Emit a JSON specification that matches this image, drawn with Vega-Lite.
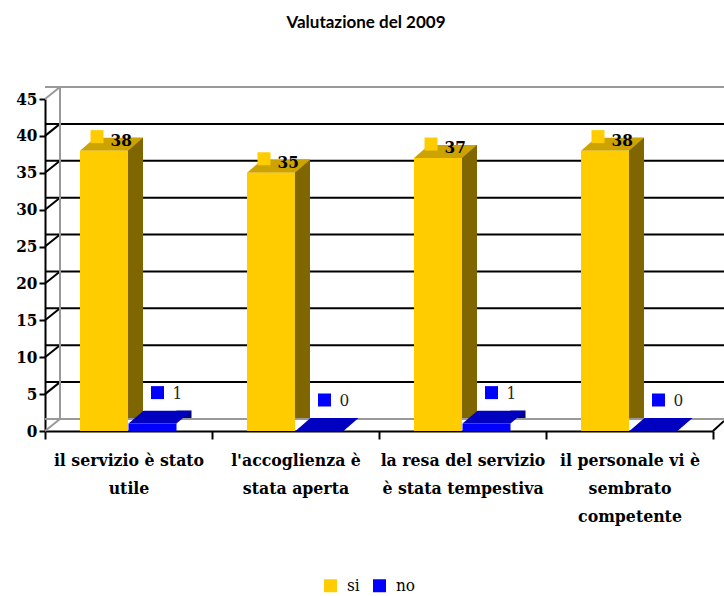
{
  "$schema": "https://vega.github.io/schema/vega-lite/v6.json",
  "width": 668,
  "height": 332,
  "autosize": {"type": "none"},
  "padding": {"left": 45, "top": 99, "right": 11, "bottom": 165},
  "background": "white",
  "title": {"text": "Valutazione del 2009", "font": "Lato", "fontSize": 17, "fontWeight": "bold", "color": "#000000", "anchor": "middle", "dx": -13, "offset": 54},
  "config": {"view": {"stroke": null}},
  "data": {"values": [
    {"cat": "il servizio è stato|utile", "series": "si", "value": 38},
    {"cat": "il servizio è stato|utile", "series": "no", "value": 1},
    {"cat": "l'accoglienza è|stata aperta", "series": "si", "value": 35},
    {"cat": "l'accoglienza è|stata aperta", "series": "no", "value": 0},
    {"cat": "la resa del servizio|è stata tempestiva", "series": "si", "value": 37},
    {"cat": "la resa del servizio|è stata tempestiva", "series": "no", "value": 1},
    {"cat": "il personale vi è|sembrato|competente", "series": "si", "value": 38},
    {"cat": "il personale vi è|sembrato|competente", "series": "no", "value": 0}
  ]},
  "encoding": {
    "y": {"field": "value", "type": "quantitative", "title": null,
      "scale": {"domain": [0, 45], "nice": false, "zero": true},
      "axis": {"values": [0, 5, 10, 15, 20, 25, 30, 35, 40, 45], "grid": false, "domainColor": "#000000", "domainWidth": 2, "tickColor": "#000000", "tickWidth": 2, "tickSize": 6, "labelFont": "DejaVu Serif Condensed", "labelFontWeight": "bold", "labelFontSize": 17, "labelColor": "#000000", "labelPadding": 2}}
  },
  "layer": [
    {
      "data": {"values": [{"value": 0}, {"value": 5}, {"value": 10}, {"value": 15}, {"value": 20}, {"value": 25}, {"value": 30}, {"value": 35}, {"value": 40}, {"value": 45}]},
      "mark": {"type": "rule", "xOffset": 15, "x2Offset": 15, "yOffset": -12, "strokeWidth": 2},
      "encoding": {
        "color": {"condition": {"test": "datum.value == 0 || datum.value == 45", "value": "#999999"}, "value": "#000000"}
      }
    },
    {
      "data": {"values": [{"value": 0}, {"value": 5}, {"value": 10}, {"value": 15}, {"value": 20}, {"value": 25}, {"value": 30}, {"value": 35}, {"value": 40}, {"value": 45}]},
      "mark": {"type": "rule", "x2Offset": 15, "y2Offset": -12, "strokeWidth": 2},
      "encoding": {
        "x": {"datum": "il servizio è stato|utile", "type": "nominal", "bandPosition": 0},
        "x2": {"datum": "il servizio è stato|utile", "bandPosition": 0},
        "y2": {"field": "value"},
        "color": {"condition": {"test": "datum.value == 0 || datum.value == 45", "value": "#999999"}, "value": "#000000"}
      }
    },
    {
      "data": {"values": [{"value": 0}]},
      "mark": {"type": "rule", "xOffset": 15, "yOffset": -12, "y2Offset": -12, "strokeWidth": 2, "color": "#999999"},
      "encoding": {
        "x": {"datum": "il servizio è stato|utile", "type": "nominal", "bandPosition": 0},
        "y": {"datum": 0}, "y2": {"datum": 45}}
    },
    {
      "data": {"values": [{"value": 0}]},
      "mark": {"type": "rule", "x2Offset": 11, "y2Offset": -10, "strokeWidth": 2, "color": "#000000"},
      "encoding": {
        "x": {"datum": "il personale vi è|sembrato|competente", "type": "nominal", "bandPosition": 1},
        "x2": {"datum": "il personale vi è|sembrato|competente", "bandPosition": 1},
        "y": {"datum": 0}, "y2": {"datum": 0}}
    },
    {
      "transform": [{"filter": "datum.series == 'si'"}],
      "mark": {"type": "bar", "width": 15, "xOffset": 7, "yOffset": -13, "color": "#806600"},
      "encoding": {
        "x": {"field": "cat", "type": "nominal", "sort": null, "title": null,
          "scale": {"domain": ["il servizio è stato|utile", "l'accoglienza è|stata aperta", "la resa del servizio|è stata tempestiva", "il personale vi è|sembrato|competente"], "paddingInner": 0, "paddingOuter": 0},
          "axis": {"bandPosition": 0.5, "labelExpr": "split(datum.label, '|')", "labelAngle": 0, "labelAlign": "center", "labelFont": "DejaVu Serif Condensed", "labelFontWeight": "bold", "labelFontSize": 17.5, "labelColor": "#000000", "labelLineHeight": 28, "labelPadding": 21, "labelLimit": 300, "tickBand": "extent", "tickSize": 8, "tickWidth": 2, "tickColor": "#000000", "domainColor": "#000000", "domainWidth": 2}}
      }
    },
    {
      "transform": [{"filter": "datum.series == 'si'"}],
      "mark": {"type": "point", "shape": "M-1,0.206L0.524,0.206L1,-0.206L-0.524,-0.206Z", "size": 3969, "filled": true, "opacity": 1, "strokeWidth": 0, "color": "#CCA300", "xOffset": -17, "yOffset": -6.5},
      "encoding": {"x": {"field": "cat", "type": "nominal", "sort": null, "title": null}}
    },
    {
      "transform": [{"filter": "datum.series == 'si'"}],
      "mark": {"type": "bar", "width": 48, "xOffset": -24.5},
      "encoding": {
        "x": {"field": "cat", "type": "nominal", "sort": null, "title": null},
        "color": {"field": "series", "type": "nominal", "scale": {"domain": ["si", "no"], "range": ["#FFCC00", "#0000FF"]},
          "legend": {"title": null, "orient": "none", "legendX": 277, "legendY": 478, "direction": "horizontal", "symbolType": "square", "symbolSize": 169, "symbolStrokeWidth": 0, "labelFont": "DejaVu Serif Condensed", "labelFontSize": 17, "labelColor": "#000000", "columnPadding": 11, "labelOffset": 8, "padding": 0}}
      }
    },
    {
      "transform": [{"filter": "datum.series == 'no'"}],
      "mark": {"type": "bar", "width": 15, "xOffset": 55.5, "yOffset": -13, "color": "#000080"},
      "encoding": {"x": {"field": "cat", "type": "nominal", "sort": null, "title": null}}
    },
    {
      "transform": [{"filter": "datum.series == 'no'"}],
      "mark": {"type": "point", "shape": "M-1,0.206L0.524,0.206L1,-0.206L-0.524,-0.206Z", "size": 3969, "filled": true, "opacity": 1, "strokeWidth": 0, "color": "#0000C0", "xOffset": 31.5, "yOffset": -6.5},
      "encoding": {"x": {"field": "cat", "type": "nominal", "sort": null, "title": null}}
    },
    {
      "transform": [{"filter": "datum.series == 'no'"}],
      "mark": {"type": "bar", "width": 48, "xOffset": 24},
      "encoding": {
        "x": {"field": "cat", "type": "nominal", "sort": null, "title": null},
        "color": {"field": "series", "type": "nominal"}
      }
    },
    {
      "transform": [{"filter": "datum.series == 'si'"}],
      "mark": {"type": "point", "shape": "square", "filled": true, "size": 169, "opacity": 1, "color": "#FFCC00", "xOffset": -31.5, "yOffset": -14},
      "encoding": {"x": {"field": "cat", "type": "nominal", "sort": null, "title": null}}
    },
    {
      "transform": [{"filter": "datum.series == 'si'"}],
      "mark": {"type": "text", "align": "left", "baseline": "middle", "font": "DejaVu Serif Condensed", "fontWeight": "bold", "fontSize": 17, "color": "#000000", "xOffset": -18, "yOffset": -10},
      "encoding": {"x": {"field": "cat", "type": "nominal", "sort": null, "title": null}, "text": {"field": "value", "type": "quantitative"}}
    },
    {
      "transform": [{"filter": "datum.series == 'no'"}],
      "mark": {"type": "point", "shape": "square", "filled": true, "size": 169, "opacity": 1, "color": "#0000FF", "xOffset": 29, "yOffset": -31},
      "encoding": {"x": {"field": "cat", "type": "nominal", "sort": null, "title": null}}
    },
    {
      "transform": [{"filter": "datum.series == 'no'"}],
      "mark": {"type": "text", "align": "left", "baseline": "middle", "font": "DejaVu Serif Condensed", "fontSize": 17, "color": "#222222", "xOffset": 44, "yOffset": -30},
      "encoding": {"x": {"field": "cat", "type": "nominal", "sort": null, "title": null}, "text": {"field": "value", "type": "quantitative"}}
    }
  ]
}
